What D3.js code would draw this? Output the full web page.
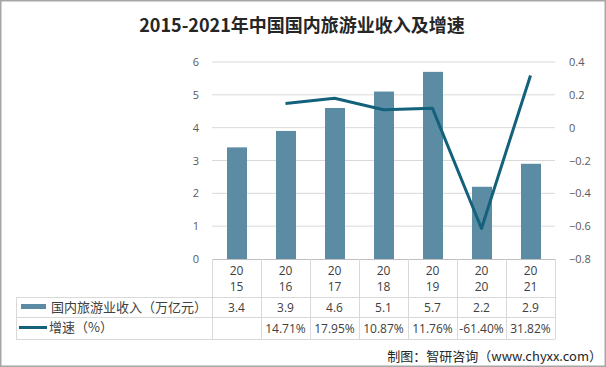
<!DOCTYPE html>
<html>
<head>
<meta charset="utf-8">
<script src="https://cdn.jsdelivr.net/npm/d3@7"></script>
<style>
  body { margin: 0; background: #fff; }
  svg { display: block; }
</style>
</head>
<body>
<svg id="chart" width="606" height="367"></svg>
<script>
// data
const years = ["2015", "2016", "2017", "2018", "2019", "2020", "2021"];
const income = [3.4, 3.9, 4.6, 5.1, 5.7, 2.2, 2.9];
const growth = [null, 0.1471, 0.1795, 0.1087, 0.1176, -0.614, 0.3182];
const growthLabels = ["", "14.71%", "17.95%", "10.87%", "11.76%", "-61.40%", "31.82%"];
const leftTicks = [0, 1, 2, 3, 4, 5, 6];
const rightTicks = [0.4, 0.2, 0, -0.2, -0.4, -0.6, -0.8];

const svg = d3.select("#chart");
const W = 606, H = 367;
const plot = { left: 212, right: 555, top: 62, bottom: 259 };
const barColor = "#5b8ca3";
const lineColor = "#14617c";
const cjk = "'Noto Sans CJK SC', sans-serif";
const num = "'Open Sans', 'Noto Sans', sans-serif";

// outer frame
svg.append("rect")
  .attr("x", 0.75).attr("y", 0.75)
  .attr("width", W - 1.5).attr("height", H - 1.5)
  .attr("fill", "#fff").attr("stroke", "#a6a6a6").attr("stroke-width", 1.5);

// title
svg.append("text")
  .attr("x", 302).attr("y", 32)
  .attr("text-anchor", "middle")
  .attr("font-family", cjk)
  .attr("font-weight", "bold")
  .attr("font-size", 18)
  .attr("fill", "#262626")
  .text("2015-2021年中国国内旅游业收入及增速");

// scales
const x = d3.scaleBand().domain(years).range([plot.left, plot.right]);
const yL = d3.scaleLinear().domain([0, 6]).range([plot.bottom, plot.top]);
const yR = d3.scaleLinear().domain([-0.8, 0.4]).range([plot.bottom, plot.top]);

// gridlines
svg.append("g")
  .selectAll("line")
  .data(leftTicks.slice(1))
  .join("line")
  .attr("x1", plot.left).attr("x2", plot.right)
  .attr("y1", d => yL(d)).attr("y2", d => yL(d))
  .attr("stroke", "#d9d9d9").attr("stroke-width", 1);

// left axis labels
svg.append("g")
  .selectAll("text")
  .data(leftTicks)
  .join("text")
  .attr("x", 199).attr("y", d => yL(d) + 4)
  .attr("text-anchor", "end")
  .attr("font-family", num).attr("font-size", 11)
  .attr("fill", "#595959")
  .text(d => d);

// right axis labels
svg.append("g")
  .selectAll("text")
  .data(rightTicks)
  .join("text")
  .attr("x", 569).attr("y", d => yR(d) + 4)
  .attr("text-anchor", "start")
  .attr("font-family", num).attr("font-size", 11)
  .attr("fill", "#595959")
  .text(d => d3.format("")(+d.toFixed(1)));

// bars
const barW = 20;
svg.append("g")
  .selectAll("rect")
  .data(income)
  .join("rect")
  .attr("x", (d, i) => x(years[i]) + x.bandwidth() / 2 - barW / 2 + 0.5)
  .attr("y", d => yL(d))
  .attr("width", barW)
  .attr("height", d => plot.bottom - yL(d))
  .attr("fill", barColor);

// growth line
const line = d3.line()
  .defined(d => d != null)
  .x((d, i) => x(years[i]) + x.bandwidth() / 2)
  .y(d => yR(d));
svg.append("path")
  .datum(growth)
  .attr("d", line)
  .attr("fill", "none")
  .attr("stroke", lineColor)
  .attr("stroke-width", 3)
  .attr("stroke-linejoin", "round");

// data table
const tLeft = 16, r1 = 297, r2 = 317, r3 = 339;
const grid = svg.append("g").attr("stroke", "#d9d9d9").attr("stroke-width", 1);
grid.append("line").attr("x1", plot.left).attr("x2", plot.right)
  .attr("y1", plot.bottom + 0.5).attr("y2", plot.bottom + 0.5).attr("stroke", "#bfbfbf");
[r1, r2, r3].forEach(y => {
  grid.append("line").attr("x1", tLeft).attr("x2", plot.right)
    .attr("y1", y + 0.5).attr("y2", y + 0.5);
});
grid.append("line").attr("x1", tLeft + 0.5).attr("x2", tLeft + 0.5)
  .attr("y1", r1).attr("y2", r3);
years.concat(["end"]).forEach((yr, i) => {
  const xx = Math.round(plot.left + i * x.bandwidth()) + 0.5;
  grid.append("line").attr("x1", xx).attr("x2", xx)
    .attr("y1", plot.bottom).attr("y2", r3);
});

const cell = svg.append("g")
  .attr("font-family", num).attr("font-size", 12)
  .attr("fill", "#404040").attr("text-anchor", "middle");
years.forEach((yr, i) => {
  const cx = x(yr) + x.bandwidth() / 2;
  cell.append("text").attr("x", cx).attr("y", 275).text(yr.slice(0, 2));
  cell.append("text").attr("x", cx).attr("y", 291).text(yr.slice(2));
  cell.append("text").attr("x", cx).attr("y", 312).text(income[i]);
  cell.append("text").attr("x", cx).attr("y", 333).text(growthLabels[i]);
});

// legend keys in table
svg.append("rect")
  .attr("x", 21).attr("y", 304).attr("width", 25).attr("height", 5)
  .attr("fill", barColor);
svg.append("text")
  .attr("x", 51).attr("y", 312)
  .attr("font-family", cjk).attr("font-size", 13).attr("fill", "#404040")
  .text("国内旅游业收入（万亿元）");
svg.append("line")
  .attr("x1", 19).attr("x2", 47).attr("y1", 327.5).attr("y2", 327.5)
  .attr("stroke", lineColor).attr("stroke-width", 3);
svg.append("text")
  .attr("x", 49).attr("y", 332)
  .attr("font-family", cjk).attr("font-size", 13).attr("fill", "#404040")
  .text("增速（%）");

// source
svg.append("text")
  .attr("x", 602).attr("y", 361)
  .attr("text-anchor", "end")
  .attr("font-family", cjk).attr("font-size", 13).attr("fill", "#262626")
  .text("制图：智研咨询（www.chyxx.com）");
</script>
</body>
</html>
